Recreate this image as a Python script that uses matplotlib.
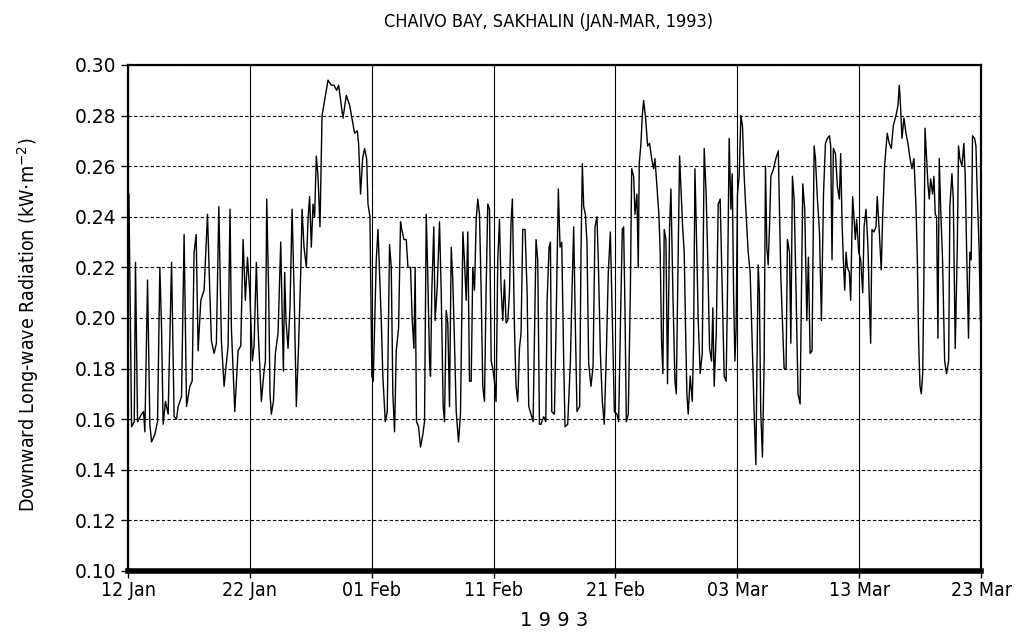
import datetime as dt
import matplotlib
matplotlib.use('Agg')
import matplotlib.pyplot as plt
import matplotlib.dates as mdates

# days since 12 Jan 1993
day = [0.07, 0.29, 0.51, 0.61, 0.78, 1.11, 1.27, 1.38, 1.60, 1.79, 1.93, 2.20, 2.42, 2.61, 2.75, 2.88,
       3.07, 3.29, 3.57, 3.78, 3.98, 4.11, 4.39, 4.60, 4.80, 5.07, 5.26, 5.42, 5.59, 5.75, 5.97, 6.24,
       6.52, 6.71, 6.84, 7.06, 7.25, 7.45, 7.66, 7.88, 8.21, 8.37, 8.48, 8.76, 9.03, 9.25, 9.44, 9.63,
       9.80, 9.99, 10.20, 10.34, 10.53, 10.67,
       10.94, 11.16, 11.27, 11.38, 11.54, 11.65, 11.76, 11.93, 12.09, 12.31, 12.53, 12.64, 12.75, 12.85,
       12.96, 13.13, 13.29, 13.46, 13.62, 13.81, 14.00, 14.17, 14.28, 14.44, 14.63, 14.77, 14.90, 15.04,
       15.18, 15.31, 15.45, 15.59, 15.75, 15.92, 16.13, 16.41, 16.68, 16.90, 17.12, 17.28, 17.45, 17.64,
       17.91, 18.19, 18.37, 18.59, 18.81, 18.92, 19.08, 19.25, 19.41, 19.58, 19.69, 19.85, 20.01, 20.12,
       20.37, 20.51, 20.64, 20.78, 20.91, 21.11, 21.27, 21.46, 21.60, 21.73, 21.87, 22.01, 22.20, 22.36,
       22.42, 22.64, 22.83, 22.97, 23.18, 23.32, 23.46, 23.56, 23.67, 23.84, 24.00, 24.19, 24.33, 24.47,
       24.60, 24.74, 24.82, 24.93, 25.09, 25.20, 25.37, 25.56, 25.70, 25.86, 25.97, 26.11, 26.24, 26.38,
       26.52, 26.65, 26.79, 26.93, 27.12, 27.28, 27.48, 27.61, 27.75, 27.88, 28.02, 28.16, 28.29, 28.43,
       28.57, 28.70, 28.84, 28.98, 29.11, 29.25, 29.38, 29.52, 29.66, 29.80, 29.93, 30.07, 30.20, 30.34,
       30.48, 30.61, 30.75, 30.89, 31.02, 31.16, 31.30, 31.43, 31.54, 31.71, 31.84, 31.98, 32.12, 32.25,
       32.39, 32.58, 32.75, 32.88, 33.07, 33.24, 33.34, 33.48, 33.62, 33.76,
       33.89, 34.11, 34.28, 34.39, 34.55, 34.66, 34.77, 34.99, 35.12, 35.31, 35.45, 35.59, 35.75, 35.86,
       36.08, 36.30, 36.43, 36.57, 36.71, 36.84, 37.06, 37.17, 37.28, 37.39, 37.53, 37.66, 37.80, 37.99,
       38.16, 38.32, 38.48, 38.59, 38.76, 38.92, 39.08, 39.25, 39.41, 39.58, 39.74, 39.91, 40.12, 40.26,
       40.40, 40.56, 40.67, 40.78, 40.89, 41.05, 41.22, 41.33, 41.49, 41.60, 41.76, 41.87, 41.95, 42.09,
       42.20, 42.31, 42.47, 42.64, 42.80, 42.97, 43.13, 43.24, 43.40, 43.56, 43.67, 43.78, 43.89, 44.00,
       44.14, 44.27, 44.44, 44.55, 44.71, 44.88, 44.99, 45.10, 45.26,
       45.51, 45.64, 45.75, 45.86, 45.97, 46.13, 46.30, 46.41, 46.52, 46.63, 46.79, 46.95, 47.12, 47.28,
       47.44, 47.55, 47.72, 47.88, 47.99, 48.10, 48.27, 48.43, 48.59, 48.76, 48.92, 49.08, 49.19, 49.33,
       49.47, 49.58, 49.69, 49.80, 49.90, 50.01, 50.15, 50.29, 50.42, 50.56, 50.72, 50.89, 51.05, 51.22,
       51.38, 51.52, 51.60, 51.71, 51.81, 51.92, 52.06, 52.20, 52.31, 52.42, 52.53, 52.64, 52.75, 52.97,
       53.16, 53.36, 53.46, 53.57, 53.70, 53.84, 54.00, 54.11, 54.28, 54.39, 54.52, 54.66, 54.82, 54.98,
       55.15, 55.26, 55.37, 55.53, 55.70, 55.83, 55.97, 56.13, 56.30, 56.41, 56.57, 56.74, 56.90, 57.07,
       57.23, 57.39, 57.56,
       57.66, 57.77, 57.88, 58.05, 58.21, 58.37, 58.48, 58.59, 58.70, 58.81, 58.92, 59.03, 59.19, 59.30,
       59.46, 59.57, 59.68, 59.79, 59.96, 60.12, 60.29, 60.40, 60.56, 60.72, 60.83, 60.94, 61.05, 61.21,
       61.38, 61.48, 61.65, 61.81, 61.92, 62.08, 62.30, 62.47, 62.63, 62.80, 63.02, 63.18, 63.29, 63.40,
       63.51, 63.67, 63.84, 64.00, 64.17, 64.33, 64.49, 64.66, 64.77, 64.88, 64.99, 65.10, 65.21, 65.31,
       65.40, 65.53, 65.64, 65.75, 65.86, 66.02, 66.13, 66.24, 66.35, 66.46, 66.57, 66.68, 66.84, 67.01,
       67.17, 67.34, 67.44, 67.61, 67.72, 67.88, 68.05, 68.15, 68.26, 68.43, 68.59, 68.70, 68.81, 68.97,
       69.08, 69.19, 69.30, 69.47, 69.58, 69.69, 69.85, 69.95]

# downward long-wave radiation, kW m-2
rad = [0.249, 0.157, 0.159, 0.222, 0.159, 0.162, 0.163, 0.155, 0.215, 0.158, 0.151, 0.154, 0.159, 0.220, 0.196, 0.158,
       0.167, 0.162, 0.222, 0.161, 0.160, 0.165, 0.169, 0.233, 0.165, 0.173, 0.175, 0.226, 0.233, 0.187, 0.207, 0.211,
       0.241, 0.210, 0.191, 0.186, 0.190, 0.244, 0.191, 0.173, 0.189, 0.243, 0.196, 0.163, 0.187, 0.189, 0.231, 0.207,
       0.224, 0.210, 0.183, 0.189, 0.222, 0.196,
       0.167, 0.179, 0.183, 0.247, 0.210, 0.170, 0.162, 0.167, 0.186, 0.194, 0.230, 0.203, 0.179, 0.218,
       0.199, 0.188, 0.204, 0.243, 0.212, 0.165, 0.190, 0.218, 0.243, 0.228, 0.220, 0.239, 0.248, 0.228,
       0.245, 0.240, 0.264, 0.256, 0.236, 0.280, 0.286, 0.294, 0.292, 0.292, 0.290, 0.292, 0.286, 0.279,
       0.288, 0.284, 0.279, 0.273, 0.274, 0.269, 0.249, 0.263, 0.267, 0.263, 0.245, 0.240, 0.177, 0.175,
       0.223, 0.235, 0.218, 0.199, 0.177, 0.159, 0.163, 0.229, 0.220, 0.170, 0.155, 0.187, 0.196, 0.238,
       0.236, 0.231, 0.231, 0.220, 0.220, 0.199, 0.188, 0.220, 0.159, 0.157, 0.149, 0.154, 0.159, 0.241,
       0.216, 0.183, 0.177, 0.211, 0.236, 0.199, 0.212, 0.238, 0.210, 0.165, 0.159, 0.203, 0.198, 0.165,
       0.228, 0.215, 0.190, 0.163, 0.151, 0.162, 0.234, 0.222, 0.207, 0.234, 0.175, 0.175, 0.220, 0.211,
       0.239, 0.247, 0.241, 0.210, 0.173, 0.167, 0.210, 0.245, 0.243, 0.183, 0.180, 0.175, 0.167, 0.223,
       0.239, 0.212, 0.199, 0.215, 0.198, 0.199, 0.210, 0.238, 0.247, 0.196, 0.173, 0.167, 0.188, 0.194,
       0.235, 0.235, 0.210, 0.165, 0.162, 0.159, 0.188, 0.231, 0.223, 0.158,
       0.158, 0.161, 0.159, 0.207, 0.228, 0.230, 0.163, 0.162, 0.196, 0.251, 0.228, 0.230, 0.183, 0.157,
       0.158, 0.183, 0.210, 0.236, 0.196, 0.163, 0.165, 0.226, 0.261, 0.244, 0.241, 0.230, 0.182, 0.173,
       0.181, 0.236, 0.240, 0.223, 0.186, 0.167, 0.158, 0.186, 0.218, 0.234, 0.199, 0.163, 0.162, 0.159,
       0.196, 0.235, 0.236, 0.203, 0.159, 0.162, 0.210, 0.259, 0.256, 0.241, 0.249, 0.220, 0.261, 0.269,
       0.280, 0.286, 0.279, 0.268, 0.269, 0.263, 0.259, 0.263, 0.252, 0.241, 0.226, 0.191, 0.178, 0.235,
       0.231, 0.174, 0.236, 0.251, 0.210, 0.175, 0.170, 0.210, 0.264,
       0.236, 0.226, 0.196, 0.170, 0.162, 0.177, 0.167, 0.190, 0.259, 0.236, 0.199, 0.178, 0.186, 0.267,
       0.249, 0.228, 0.188, 0.183, 0.204, 0.173, 0.194, 0.245, 0.247, 0.210, 0.177, 0.175, 0.210, 0.271,
       0.243, 0.257, 0.210, 0.183, 0.196, 0.249, 0.256, 0.280, 0.276, 0.256, 0.241, 0.226, 0.218, 0.190,
       0.162, 0.142, 0.177, 0.221, 0.210, 0.163, 0.145, 0.183, 0.260, 0.228, 0.221, 0.236, 0.256, 0.259,
       0.263, 0.266, 0.243, 0.216, 0.199, 0.180, 0.180, 0.231, 0.226, 0.190, 0.256, 0.247, 0.210, 0.170,
       0.166, 0.210, 0.253, 0.243, 0.199, 0.224, 0.186, 0.187, 0.268, 0.263, 0.247, 0.234, 0.199, 0.249,
       0.269, 0.271, 0.272,
       0.268, 0.223, 0.267, 0.265, 0.252, 0.247, 0.265, 0.238, 0.223, 0.211, 0.226, 0.220, 0.218, 0.207,
       0.248, 0.240, 0.231, 0.239, 0.226, 0.223, 0.210, 0.236, 0.243, 0.228, 0.207, 0.190, 0.235, 0.234,
       0.236, 0.248, 0.234, 0.219, 0.239, 0.260, 0.273, 0.269, 0.267, 0.276, 0.280, 0.284, 0.292, 0.283,
       0.271, 0.279, 0.273, 0.269, 0.263, 0.259, 0.263, 0.244, 0.223, 0.190, 0.173, 0.170, 0.178, 0.216,
       0.275, 0.263, 0.253, 0.247, 0.255, 0.249, 0.256, 0.241, 0.240, 0.192, 0.263, 0.244, 0.223, 0.183,
       0.178, 0.183, 0.244, 0.257, 0.247, 0.188, 0.228, 0.268, 0.263, 0.260, 0.269, 0.256, 0.228, 0.192,
       0.226, 0.223, 0.272, 0.271, 0.268, 0.249, 0.226, 0.199]

start = dt.datetime(1993, 1, 12)
t = [start + dt.timedelta(days=d) for d in day]

fig = plt.figure(figsize=(10.26, 6.42), dpi=100)
ax = fig.add_axes([0.1248, 0.1106, 0.8314, 0.7882])

ax.plot(t, rad, color='black', linewidth=1.0)

ax.set_xlim(start, start + dt.timedelta(days=70))
ax.set_ylim(0.10, 0.30)

ticks = [start + dt.timedelta(days=10 * i) for i in range(8)]
ax.set_xticks(ticks)
ax.xaxis.set_major_formatter(mdates.DateFormatter('%d %b'))
ax.set_yticks([0.10 + 0.02 * i for i in range(11)])
ax.yaxis.set_major_formatter(plt.FormatStrFormatter('%.2f'))

ax.grid(axis='y', color='black', linestyle=(0, (3, 2)), linewidth=0.8)
ax.grid(axis='x', color='black', linestyle='-', linewidth=0.8)

for s in ['top', 'right', 'left']:
    ax.spines[s].set_linewidth(1.6)
ax.spines['bottom'].set_linewidth(4)

ax.tick_params(axis='both', direction='out', length=5, width=1, color='black')
ax.tick_params(axis='x', pad=2)
for lab in ax.get_yticklabels():
    lab.set_fontsize(13.5)
    lab.set_family('DejaVu Sans')
for lab in ax.get_xticklabels():
    lab.set_fontsize(14)
    lab.set_family('DejaVu Sans')
    lab.set_stretch('condensed')

fig.text(0.535, 0.965, 'CHAIVO BAY, SAKHALIN (JAN-MAR, 1993)', ha='center', va='center',
         fontsize=13, family='DejaVu Sans', stretch='condensed')
fig.text(0.540, 0.034, '1 9 9 3', ha='center', va='center', fontsize=14, family='DejaVu Sans')
fig.text(0.027, 0.494, r'Downward Long-wave Radiation (kW$\cdot$m$^{-2}$)', rotation=90,
         ha='center', va='center', fontsize=14, family='DejaVu Sans', stretch='condensed')

fig.savefig('out.png', dpi=100)
